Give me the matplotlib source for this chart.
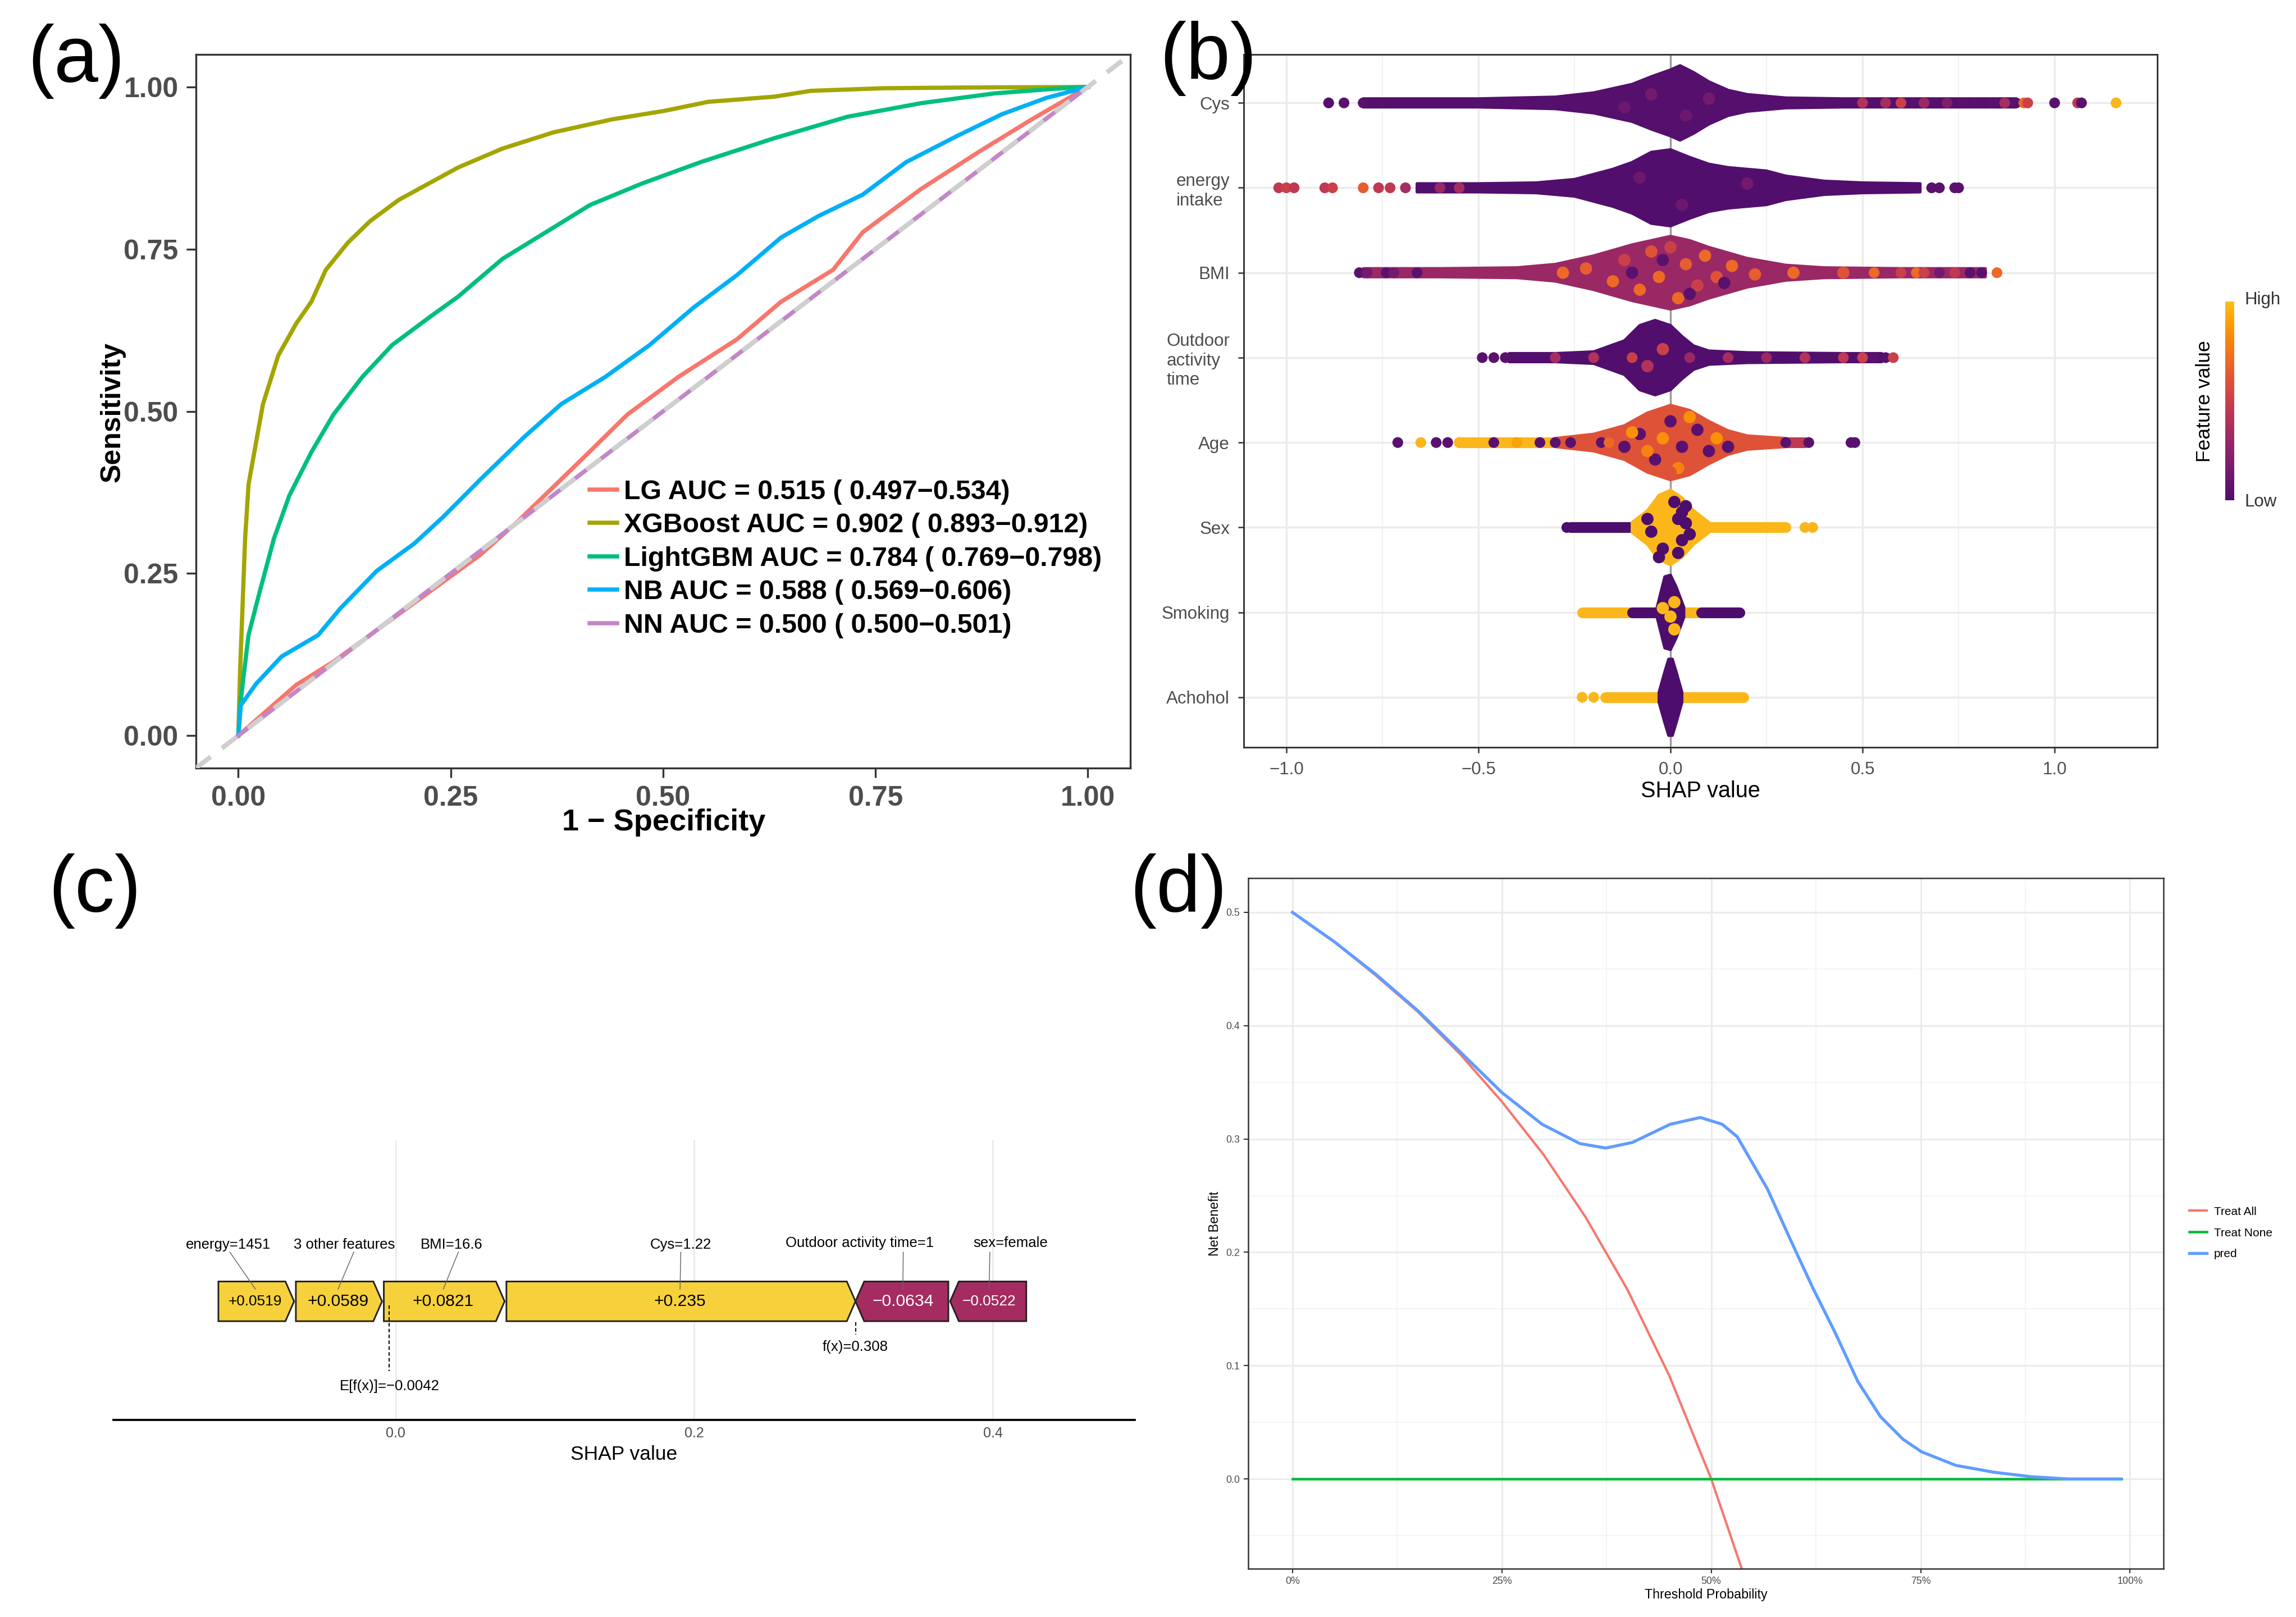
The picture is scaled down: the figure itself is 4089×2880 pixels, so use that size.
import numpy as np
import matplotlib
matplotlib.use("Agg")
import matplotlib.pyplot as plt
from matplotlib.colors import ListedColormap
from matplotlib.patches import Polygon
from matplotlib.cm import ScalarMappable
from matplotlib.colors import Normalize

NARROW = ["Liberation Sans Narrow", "Liberation Sans", "DejaVu Sans"]
REG = ["Liberation Sans", "DejaVu Sans"]
plt.rcParams["font.family"] = NARROW
plt.rcParams["axes.unicode_minus"] = True

# ── (a) ROC data ─────────────────────────────────────────────────────────────
roc_names = ["LG", "XGBoost", "LightGBM", "NB", "NN"]
roc_auc = ["0.515 ( 0.497\u22120.534)", "0.902 ( 0.893\u22120.912)",
           "0.784 ( 0.769\u22120.798)", "0.588 ( 0.569\u22120.606)",
           "0.500 ( 0.500\u22120.501)"]
roc_colors = ["#F8766D", "#A3A500", "#00BF7D", "#00B0F6", "#C386C8"]

lg_fpr = [0, 0.068, 0.112, 0.198, 0.285, 0.328, 0.406, 0.458, 0.518, 0.587,
          0.639, 0.700, 0.735, 0.804, 0.873, 0.934, 1.0]
lg_tpr = [0, 0.078, 0.114, 0.196, 0.279, 0.329, 0.428, 0.495, 0.553, 0.611,
          0.669, 0.718, 0.776, 0.843, 0.901, 0.950, 1.0]
xgb_fpr = [0, 0.002, 0.008, 0.012, 0.021, 0.029, 0.047, 0.068, 0.086, 0.103,
           0.129, 0.155, 0.189, 0.224, 0.259, 0.311, 0.371, 0.440, 0.501,
           0.553, 0.631, 0.674, 0.760, 0.847, 1.0]
xgb_tpr = [0, 0.097, 0.304, 0.387, 0.453, 0.511, 0.586, 0.635, 0.669, 0.718,
           0.760, 0.793, 0.826, 0.851, 0.876, 0.905, 0.930, 0.950, 0.963,
           0.977, 0.985, 0.994, 0.998, 0.999, 1.0]
lgb_fpr = [0, 0.003, 0.012, 0.025, 0.042, 0.060, 0.086, 0.112, 0.146, 0.181,
           0.224, 0.259, 0.311, 0.362, 0.414, 0.475, 0.544, 0.631, 0.717,
           0.804, 0.890, 0.959, 1.0]
lgb_tpr = [0, 0.056, 0.155, 0.221, 0.304, 0.370, 0.437, 0.495, 0.553, 0.602,
           0.644, 0.677, 0.735, 0.776, 0.818, 0.851, 0.884, 0.921, 0.954,
           0.975, 0.990, 0.997, 1.0]
nb_fpr = [0, 0.003, 0.021, 0.051, 0.094, 0.120, 0.163, 0.207, 0.241, 0.285,
          0.337, 0.380, 0.432, 0.484, 0.536, 0.587, 0.639, 0.683, 0.735,
          0.786, 0.847, 0.899, 0.951, 1.0]
nb_tpr = [0, 0.047, 0.080, 0.122, 0.155, 0.196, 0.254, 0.296, 0.337, 0.395,
          0.461, 0.511, 0.553, 0.602, 0.660, 0.710, 0.768, 0.801, 0.834,
          0.884, 0.925, 0.958, 0.983, 1.0]
nn_fpr = [0, 0.5, 1.0]
nn_tpr = [0, 0.5, 1.0]

# ── (b) SHAP beeswarm data (profiles) ───────────────────────────────────────
features = ["Cys", "energy\nintake", "BMI", "Outdoor\nactivity\ntime", "Age",
            "Sex", "Smoking", "Achohol"]
body_val = [0.03, 0.02, 0.30, 0.02, 0.60, 0.97, 0.0, 0.0]
prof_x = [
    [-0.80, -0.50, -0.30, -0.20, -0.10, -0.05, 0.00, 0.025, 0.06, 0.10, 0.15, 0.20, 0.30, 0.45, 0.90],
    [-0.66, -0.50, -0.35, -0.25, -0.15, -0.10, -0.05, 0.00, 0.05, 0.10, 0.15, 0.20, 0.25, 0.30, 0.40, 0.50, 0.65],
    [-0.80, -0.60, -0.40, -0.30, -0.20, -0.10, 0.00, 0.05, 0.10, 0.20, 0.30, 0.40, 0.60, 0.82],
    [-0.42, -0.30, -0.20, -0.12, -0.08, -0.04, 0.00, 0.03, 0.06, 0.10, 0.20, 0.45, 0.55],
    [-0.30, -0.20, -0.12, -0.06, 0.00, 0.05, 0.10, 0.15, 0.20, 0.30],
    [-0.10, -0.06, -0.03, 0.00, 0.03, 0.06, 0.10],
    [-0.035, -0.015, 0.00, 0.015, 0.035],
    [-0.03, -0.015, -0.005, 0.005, 0.015, 0.03],
]
prof_h = [
    [0.05, 0.05, 0.07, 0.12, 0.22, 0.31, 0.39, 0.44, 0.36, 0.25, 0.15, 0.10, 0.06, 0.05, 0.05],
    [0.05, 0.05, 0.06, 0.10, 0.22, 0.30, 0.42, 0.45, 0.36, 0.28, 0.24, 0.22, 0.20, 0.14, 0.08, 0.06, 0.05],
    [0.05, 0.05, 0.06, 0.10, 0.20, 0.33, 0.43, 0.38, 0.30, 0.17, 0.09, 0.06, 0.05, 0.05],
    [0.05, 0.05, 0.07, 0.20, 0.38, 0.44, 0.38, 0.25, 0.14, 0.08, 0.06, 0.05, 0.05],
    [0.05, 0.10, 0.20, 0.35, 0.44, 0.38, 0.25, 0.14, 0.08, 0.05],
    [0.06, 0.20, 0.38, 0.44, 0.35, 0.20, 0.06],
    [0.06, 0.42, 0.44, 0.30, 0.06],
    [0.06, 0.30, 0.45, 0.45, 0.30, 0.06],
]
# strings of dots along the row centre: (x start, x end, feature value)
tail_segs = [
    [], [], [], [],
    [(-0.55, -0.30, 0.97), (0.20, 0.35, 0.45)],
    [(-0.26, -0.08, 0.0), (0.05, 0.30, 0.97)],
    [(-0.23, -0.10, 0.97), (-0.10, -0.04, 0.0), (0.03, 0.08, 0.97), (0.08, 0.18, 0.0)],
    [(-0.17, -0.03, 0.97), (0.03, 0.19, 0.97)],
]
# single dots on the row centre: (x, feature value)
tail_dots = [
    [(-0.89, 0.02), (-0.85, 0.05), (-0.80, 0.05), (0.50, 0.4), (0.56, 0.35), (0.60, 0.5),
     (0.66, 0.3), (0.72, 0.2), (0.76, 0.05), (0.80, 0.05), (0.84, 0.05), (0.87, 0.35),
     (0.90, 0.05), (0.92, 0.7), (0.93, 0.5), (1.00, 0.05), (1.06, 0.45), (1.07, 0.05),
     (1.16, 0.97)],
    [(-1.02, 0.45), (-1.00, 0.5), (-0.98, 0.45), (-0.90, 0.45), (-0.88, 0.5),
     (-0.80, 0.65), (-0.76, 0.45), (-0.73, 0.45), (-0.69, 0.35), (-0.60, 0.3),
     (-0.55, 0.35), (0.68, 0.05), (0.70, 0.05), (0.74, 0.05), (0.75, 0.05)],
    [(-0.81, 0.05), (-0.79, 0.15), (-0.74, 0.05), (-0.72, 0.15), (-0.66, 0.05),
     (0.53, 0.7), (0.60, 0.5), (0.64, 0.7), (0.66, 0.5), (0.70, 0.15), (0.74, 0.45),
     (0.78, 0.05), (0.81, 0.05), (0.85, 0.7)],
    [(-0.49, 0.05), (-0.46, 0.05), (-0.43, 0.05), (-0.30, 0.35), (-0.20, 0.4),
     (-0.10, 0.5), (0.05, 0.3), (0.15, 0.35), (0.25, 0.3), (0.35, 0.4), (0.45, 0.45),
     (0.50, 0.5), (0.53, 0.05), (0.56, 0.05), (0.58, 0.5)],
    [(-0.71, 0.05), (-0.65, 0.97), (-0.61, 0.05), (-0.58, 0.05), (-0.55, 0.97),
     (-0.46, 0.05), (-0.40, 0.9), (-0.34, 0.05), (-0.30, 0.05), (-0.26, 0.05),
     (-0.22, 0.6), (-0.18, 0.05), (-0.16, 0.7), (0.30, 0.05), (0.36, 0.05),
     (0.47, 0.05), (0.48, 0.05)],
    [(-0.27, 0.0), (0.35, 0.97), (0.37, 0.97)],
    [(-0.07, 0.0)],
    [(-0.23, 0.97), (-0.20, 0.97)],
]
# dots inside the swarm body: (x, vertical offset, feature value)
body_dots = [
    [(-0.05, 0.1, 0.15), (0.04, -0.15, 0.12), (0.10, 0.05, 0.15), (-0.12, -0.05, 0.12)],
    [(-0.08, 0.12, 0.12), (0.03, -0.2, 0.12), (0.2, 0.05, 0.15)],
    [(-0.28, 0.0, 0.7), (-0.22, 0.05, 0.65), (-0.15, -0.1, 0.7), (-0.12, 0.15, 0.5),
     (-0.08, -0.2, 0.7), (-0.05, 0.25, 0.6), (-0.03, -0.05, 0.7), (0.0, 0.3, 0.5),
     (0.02, -0.3, 0.7), (0.04, 0.1, 0.65), (0.07, -0.15, 0.5), (0.09, 0.2, 0.7),
     (0.12, -0.05, 0.6), (0.16, 0.08, 0.7), (0.22, -0.02, 0.65), (0.32, 0.0, 0.7),
     (0.45, 0.0, 0.6), (-0.10, 0.0, 0.05), (0.05, -0.25, 0.05), (-0.02, 0.15, 0.05),
     (0.14, -0.12, 0.05)],
    [(-0.02, 0.1, 0.5), (-0.06, -0.1, 0.4)],
    [(-0.08, 0.1, 0.05), (-0.04, -0.2, 0.05), (0.0, 0.25, 0.05), (0.03, -0.05, 0.05),
     (0.07, 0.15, 0.05), (0.10, -0.1, 0.05), (-0.12, -0.05, 0.05), (-0.02, 0.05, 0.85),
     (0.02, -0.3, 0.8), (0.05, 0.3, 0.85), (-0.06, -0.1, 0.8), (0.12, 0.05, 0.85),
     (0.15, -0.05, 0.05), (-0.10, 0.12, 0.85), (0.0, -0.35, 0.6)],
    [(-0.05, -0.05, 0.0), (0.02, 0.1, 0.0), (0.04, 0.05, 0.0), (0.03, -0.15, 0.0),
     (-0.02, -0.25, 0.0), (0.01, 0.3, 0.0), (0.04, 0.25, 0.0), (-0.06, 0.1, 0.0),
     (0.02, -0.3, 0.0), (-0.03, -0.35, 0.0), (0.05, -0.08, 0.0), (0.03, 0.18, 0.0)],
    [(0.01, 0.12, 0.97), (0.0, -0.05, 0.97), (-0.02, 0.05, 0.97), (0.01, -0.2, 0.97)],
    [],
]

# ── (c) force plot data ──────────────────────────────────────────────────────
force_base = -0.0042
force_fx = 0.308
force_vals = [0.0519, 0.0589, 0.0821, 0.235, -0.0634, -0.0522]
force_text = ["+0.0519", "+0.0589", "+0.0821", "+0.235", "\u22120.0634", "\u22120.0522"]
force_labels = ["energy=1451", "3 other features", "BMI=16.6", "Cys=1.22",
                "Outdoor activity time=1", "sex=female"]
force_label_x = [-0.112, -0.0345, 0.0374, 0.191, 0.311, 0.412]
force_seg_x = [-0.111, -0.028, 0.042, 0.191, 0.340, 0.398]

# ── (d) decision curve data ──────────────────────────────────────────────────
dca_all_x = [0, 0.05, 0.10, 0.15, 0.20, 0.25, 0.30, 0.35, 0.40, 0.45, 0.50, 0.54]
dca_all_y = [0.5, 0.474, 0.444, 0.412, 0.375, 0.333, 0.286, 0.231, 0.167, 0.091, 0.0, -0.087]
dca_none_x = [0, 0.99]
dca_none_y = [0, 0]
dca_pred_x = [0, 0.05, 0.10, 0.15, 0.20, 0.25, 0.298, 0.343, 0.374, 0.406, 0.451,
              0.487, 0.513, 0.531, 0.567, 0.594, 0.621, 0.648, 0.675, 0.702,
              0.729, 0.751, 0.792, 0.837, 0.882, 0.926, 0.989]
dca_pred_y = [0.5, 0.474, 0.445, 0.413, 0.377, 0.341, 0.313, 0.296, 0.292, 0.297, 0.313,
              0.319, 0.313, 0.302, 0.256, 0.212, 0.169, 0.129, 0.086, 0.055,
              0.035, 0.024, 0.012, 0.006, 0.002, 0.0, 0.0]

fig = plt.figure(figsize=(4089 / 300, 2880 / 300), dpi=300)
cmap = ListedColormap(plt.get_cmap("inferno")(np.linspace(0.23, 0.85, 256)))

# ── panel (a) ────────────────────────────────────────────────────────────────
ax = fig.add_axes([0.0853, 0.525, 0.407, 0.4413])
curves = [(lg_fpr, lg_tpr), (xgb_fpr, xgb_tpr), (lgb_fpr, lgb_tpr),
          (nb_fpr, nb_tpr), (nn_fpr, nn_tpr)]
handles = []
for (fx, fy), name, auc, col in zip(curves, roc_names, roc_auc, roc_colors):
    h, = ax.plot(fx, fy, color=col, lw=1.8, solid_joinstyle="round",
                 label=f"{name} AUC = {auc}")
    handles.append(h)
ax.axline((0, 0), (1, 1), color="#CFCFCF", lw=2.0, ls=(0, (4, 3)), zorder=5)
ax.set_xlim(-0.05, 1.05)
ax.set_ylim(-0.05, 1.05)
ticks = [0, 0.25, 0.5, 0.75, 1.0]
ax.set_xticks(ticks, ["0.00", "0.25", "0.50", "0.75", "1.00"])
ax.set_yticks(ticks, ["0.00", "0.25", "0.50", "0.75", "1.00"])
ax.tick_params(labelsize=12, colors="#333333", labelcolor="#4D4D4D", length=4, width=0.8)
for t in ax.get_xticklabels() + ax.get_yticklabels():
    t.set_fontweight("bold")
for s in ax.spines.values():
    s.set_color("#333333")
    s.set_linewidth(0.8)
ax.legend(handles=handles, loc="upper left", bbox_to_anchor=(0.41, 0.42),
          frameon=False, prop={"family": NARROW, "weight": "bold", "size": 11.6},
          handlelength=1.0, handletextpad=0.25, labelspacing=0.3, borderaxespad=0)
fig.text(0.049, 0.745, "Sensitivity", rotation=90, ha="center", va="center",
         fontsize=12, fontweight="bold", family=REG)
fig.text(0.289, 0.4914, "1 \u2212 Specificity", ha="center", va="center",
         fontsize=13, fontweight="bold")

# ── panel (b) ────────────────────────────────────────────────────────────────
bx = fig.add_axes([0.5417, 0.5378, 0.398, 0.4285])
n = len(features)
bx.set_xlim(-1.111, 1.268)
bx.set_ylim(0.41, n + 0.57)
for xv in [-1.0, -0.5, 0.5, 1.0]:
    bx.axvline(xv, color="#EBEBEB", lw=0.8, zorder=0)
for xv in [-0.75, -0.25, 0.25, 0.75]:
    bx.axvline(xv, color="#F3F3F3", lw=0.5, zorder=0)
for i in range(n):
    bx.axhline(n - i, color="#EBEBEB", lw=0.8, zorder=0)
bx.axvline(0, color="#9A9A9A", lw=0.8, zorder=1)
dot_pt = 4.6
for i in range(n):
    yc = n - i
    for x0, x1, v in tail_segs[i]:
        bx.plot([x0, x1], [yc, yc], color=cmap(v), lw=dot_pt, solid_capstyle="round", zorder=2)
    px = np.array(prof_x[i])
    ph = np.array(prof_h[i])
    poly = np.column_stack([np.concatenate([px, px[::-1]]),
                            np.concatenate([yc + ph, (yc - ph)[::-1]])])
    bx.add_patch(Polygon(poly, closed=True, facecolor=cmap(body_val[i]),
                         edgecolor=cmap(body_val[i]), lw=1.2, joinstyle="round", zorder=3))
    if body_dots[i]:
        bd = np.array(body_dots[i])
        bx.scatter(bd[:, 0], yc + bd[:, 1], s=dot_pt ** 2 * 1.3, c=cmap(bd[:, 2]),
                   linewidths=0, zorder=4)
    if tail_dots[i]:
        td = np.array(tail_dots[i])
        bx.scatter(td[:, 0], np.full(len(td), yc), s=dot_pt ** 2, c=cmap(td[:, 1]),
                   linewidths=0, zorder=4)
bx.set_yticks(np.arange(n, 0, -1))
bx.set_yticklabels(features, fontsize=7.5, color="#4D4D4D", multialignment="left")
bx.set_xticks([-1.0, -0.5, 0.0, 0.5, 1.0])
bx.tick_params(labelsize=7.5, colors="#333333", labelcolor="#4D4D4D", length=2.5, width=0.6)
bx.set_xlabel("SHAP value", fontsize=9.5, labelpad=1)
for s in bx.spines.values():
    s.set_color("#333333")
    s.set_linewidth(0.7)
cax = fig.add_axes([0.9692, 0.6906, 0.004, 0.1228])
cb = fig.colorbar(ScalarMappable(norm=Normalize(0, 1), cmap=cmap), cax=cax)
cb.outline.set_visible(False)
cb.set_ticks([])
fig.text(0.9775, 0.8145, "High", fontsize=7.5, color="#333333", va="center", ha="left")
fig.text(0.9775, 0.6896, "Low", fontsize=7.5, color="#333333", va="center", ha="left")
fig.text(0.9603, 0.752, "Feature value", rotation=90, fontsize=8.5, family=REG,
         ha="center", va="center")

# ── panel (c) ────────────────────────────────────────────────────────────────
cx = fig.add_axes([0.0494, 0.1219, 0.4448, 0.1729])
cx.set_xlim(-0.189, 0.495)
cx.set_ylim(0, 1)
for xv in [0.0, 0.2, 0.4]:
    cx.axvline(xv, color="#E8E8E8", lw=0.6, zorder=0)
yc, hh, head, gap = 0.424, 0.071, 0.0058, 0.0012
pos = [v for v in force_vals if v > 0]
x = force_fx - sum(pos)
edges = []
for v in force_vals:
    if v > 0:
        edges.append((x, x + v))
        x += v
x = force_fx
for v in force_vals:
    if v < 0:
        edges.append((x, x - v))
        x -= v
for (x0, x1), v, txt, lab, lx, sx in zip(edges, force_vals, force_text, force_labels,
                                        force_label_x, force_seg_x):
    if v > 0:
        pts = [(x0 + gap, yc - hh), (x1 - head, yc - hh), (x1, yc), (x1 - head, yc + hh), (x0 + gap, yc + hh)]
        fc, tc = "#F6D13B", "black"
    else:
        pts = [(x0, yc), (x0 + head, yc - hh), (x1 - gap, yc - hh), (x1 - gap, yc + hh), (x0 + head, yc + hh)]
        fc, tc = "#A52C60", "white"
    cx.add_patch(Polygon(pts, closed=True, facecolor=fc, edgecolor="#222222", lw=0.7, zorder=2))
    fs = 7.2 if abs(v) > 0.055 else 6.3
    cx.text((x0 + x1) / 2, yc, txt, ha="center", va="center", fontsize=fs, color=tc, zorder=4)
    mid = (x0 + x1) / 2
    ly = 0.632 if lx > 0.3 else 0.626
    cx.plot([sx, mid], [0.60, 0.468], color="#666666", lw=0.35, zorder=3)
    cx.text(lx, ly, lab, ha="center", va="center", fontsize=6.2)
cx.plot([force_base, force_base], [0.41, 0.175], color="black", lw=0.5, ls=(0, (3, 2)), zorder=3)
cx.text(force_base, 0.12, "E[f(x)]=\u22120.0042", ha="center", va="center", fontsize=6.2)
cx.plot([force_fx, force_fx], [0.35, 0.305], color="black", lw=0.5, ls=(0, (3, 2)), zorder=3)
cx.text(force_fx, 0.26, "f(x)=0.308", ha="center", va="center", fontsize=6.2)
for k in ["top", "left", "right"]:
    cx.spines[k].set_visible(False)
cx.spines["bottom"].set_linewidth(0.9)
cx.set_yticks([])
cx.set_xticks([0.0, 0.2, 0.4], ["0.0", "0.2", "0.4"])
cx.tick_params(axis="x", length=0, labelsize=6, labelcolor="#4D4D4D", pad=3)
cx.set_xlabel("SHAP value", fontsize=8.5, labelpad=2)

# ── panel (d) ────────────────────────────────────────────────────────────────
dx = fig.add_axes([0.5436, 0.030, 0.3987, 0.4268])
dx.set_xlim(-0.053, 1.04)
dx.set_ylim(-0.079, 0.53)
for xv in np.arange(0.125, 1.0, 0.25):
    dx.axvline(xv, color="#F2F2F2", lw=0.4, zorder=0)
for yv in np.arange(-0.05, 0.5, 0.1):
    dx.axhline(yv, color="#F2F2F2", lw=0.4, zorder=0)
for xv in [0, 0.25, 0.5, 0.75, 1.0]:
    dx.axvline(xv, color="#EBEBEB", lw=0.7, zorder=0)
for yv in [0, 0.1, 0.2, 0.3, 0.4, 0.5]:
    dx.axhline(yv, color="#EBEBEB", lw=0.7, zorder=0)
l1, = dx.plot(dca_all_x, dca_all_y, color="#F8766D", lw=1.0, label="Treat All")
l2, = dx.plot(dca_none_x, dca_none_y, color="#00BA38", lw=1.1, label="Treat None")
l3, = dx.plot(dca_pred_x, dca_pred_y, color="#619CFF", lw=1.3, label="pred")
dx.set_xticks([0, 0.25, 0.5, 0.75, 1.0], ["0%", "25%", "50%", "75%", "100%"])
dx.set_yticks([0, 0.1, 0.2, 0.3, 0.4, 0.5], ["0.0", "0.1", "0.2", "0.3", "0.4", "0.5"])
dx.tick_params(labelsize=4.3, colors="#333333", labelcolor="#4D4D4D", length=2, width=0.5, pad=1.5)
dx.set_xlabel("Threshold Probability", fontsize=5.6, labelpad=1)
dx.set_ylabel("Net Benefit", fontsize=5.6, labelpad=2, family=REG)
for s in dx.spines.values():
    s.set_color("#333333")
    s.set_linewidth(0.6)
fig.legend(handles=[l1, l2, l3], loc="center left", bbox_to_anchor=(0.949, 0.2375),
           frameon=False, fontsize=5.0, handlelength=1.5, handletextpad=0.6, labelspacing=0.9)

# ── panel letters ────────────────────────────────────────────────────────────
for lab, lx, ly in [("(a)", 0.012, 0.962), ("(b)", 0.505, 0.964),
                    ("(c)", 0.021, 0.449), ("(d)", 0.492, 0.449)]:
    fig.text(lx, ly, lab, fontsize=34, family=REG, ha="left", va="center")

fig.savefig("out.png", dpi=300)
